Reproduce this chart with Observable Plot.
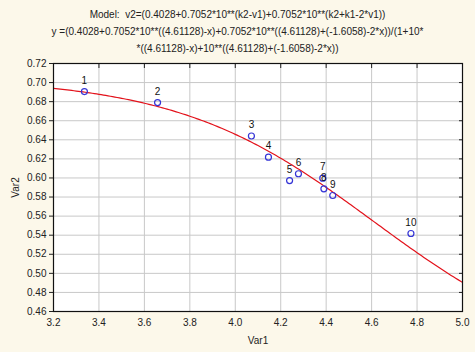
<!DOCTYPE html>
<html>
<head>
<meta charset="utf-8">
<script src="https://cdn.jsdelivr.net/npm/d3@7"></script>
<script src="https://cdn.jsdelivr.net/npm/@observablehq/plot@0.6"></script>
<style>
  html, body { margin: 0; padding: 0; background: #fcf8ea; }
  #wrap { position: relative; width: 475px; height: 352px; background: #fcf8ea; font-family: "Liberation Sans", Arial, sans-serif; }
  .t { position: absolute; left: 0; width: 475px; text-align: center; font-size: 10px; color: #222; white-space: nowrap; }
  #chart { position: absolute; left: 0; top: 0; }
</style>
</head>
<body>
<div id="wrap">
  <div id="chart"></div>
  <div class="t" style="top:9px">Model:&nbsp; v2=(0.4028+0.7052*10**(k2-v1)+0.7052*10**(k2+k1-2*v1))</div>
  <div class="t" style="top:26px">y =(0.4028+0.7052*10**((4.61128)-x)+0.7052*10**((4.61128)+(-1.6058)-2*x))/(1+10*</div>
  <div class="t" style="top:43px">*((4.61128)-x)+10**((4.61128)+(-1.6058)-2*x))</div>
</div>
<script>
// Observed points
const labels = ["1","2","3","4","5","6","7","8","9","10"];
const var1 = [3.336, 3.658, 4.071, 4.146, 4.239, 4.278, 4.385, 4.390, 4.429, 4.773];
const var2 = [0.6906, 0.679, 0.644, 0.6218, 0.5973, 0.6044, 0.5998, 0.5886, 0.5816, 0.5418];

// Fitted model parameters (from the chart title)
const modelA = 0.4028, modelB = 0.7052, modelK2 = 4.61128, modelK1 = -1.6058;

// Axis ticks
const xTicks = [3.2, 3.4, 3.6, 3.8, 4.0, 4.2, 4.4, 4.6, 4.8, 5.0];
const yTicks = [0.46, 0.48, 0.50, 0.52, 0.54, 0.56, 0.58, 0.60, 0.62, 0.64, 0.66, 0.68, 0.70, 0.72];

const pts = labels.map((l, i) => ({label: l, x: var1[i], y: var2[i]}));

const curve = d3.range(3.2, 5.0001, 0.01).map(x => {
  const e1 = Math.pow(10, modelK2 - x);
  const e2 = Math.pow(10, modelK2 + modelK1 - 2 * x);
  return {x, y: (modelA + modelB * e1 + modelB * e2) / (1 + e1 + e2)};
});

const chart = Plot.plot({
  width: 475,
  height: 352,
  marginTop: 63,
  marginLeft: 53,
  marginRight: 13,
  marginBottom: 41,
  style: {background: "transparent", fontFamily: "Liberation Sans, Arial, sans-serif", fontSize: "10px", color: "#222"},
  x: {domain: [3.2, 5.0], ticks: xTicks, tickFormat: d3.format(".1f"), label: "Var1", labelAnchor: "center", labelArrow: "none"},
  y: {domain: [0.46, 0.72], ticks: yTicks, tickFormat: d3.format(".2f"), label: "Var2", labelAnchor: "center", labelArrow: "none"},
  marks: [
    Plot.frame({fill: "white"}),
    Plot.gridX(xTicks, {stroke: "#c8c8c8", strokeOpacity: 1}),
    Plot.gridY(yTicks, {stroke: "#c8c8c8", strokeOpacity: 1}),
    Plot.axisX(xTicks, {anchor: "bottom", tickSize: 0, tickPadding: 7, tickFormat: d3.format(".1f"), label: "Var1", labelAnchor: "center", labelArrow: "none", labelOffset: 32}),
    Plot.axisY(yTicks, {anchor: "left", tickSize: 4, tickPadding: 3, tickFormat: d3.format(".2f"), label: "Var2", labelAnchor: "center", labelArrow: "none", labelOffset: 42}),
    Plot.axisX(xTicks, {anchor: "top", tickSize: -4, tickFormat: () => "", label: null}),
    Plot.axisY(yTicks, {anchor: "right", tickSize: -4, tickFormat: () => "", label: null}),
    Plot.line(curve, {x: "x", y: "y", stroke: "#e3121b", strokeWidth: 1.2, clip: true}),
    Plot.dot(pts, {x: "x", y: "y", r: 3, stroke: "#3535d6", strokeWidth: 1.2, fill: "none"}),
    Plot.text(pts, {x: "x", y: "y", text: "label", dy: -11, fontSize: 10, fill: "#111"}),
    Plot.frame({stroke: "#111", strokeWidth: 1.2})
  ]
});
document.getElementById("chart").appendChild(chart);
</script>
</body>
</html>
